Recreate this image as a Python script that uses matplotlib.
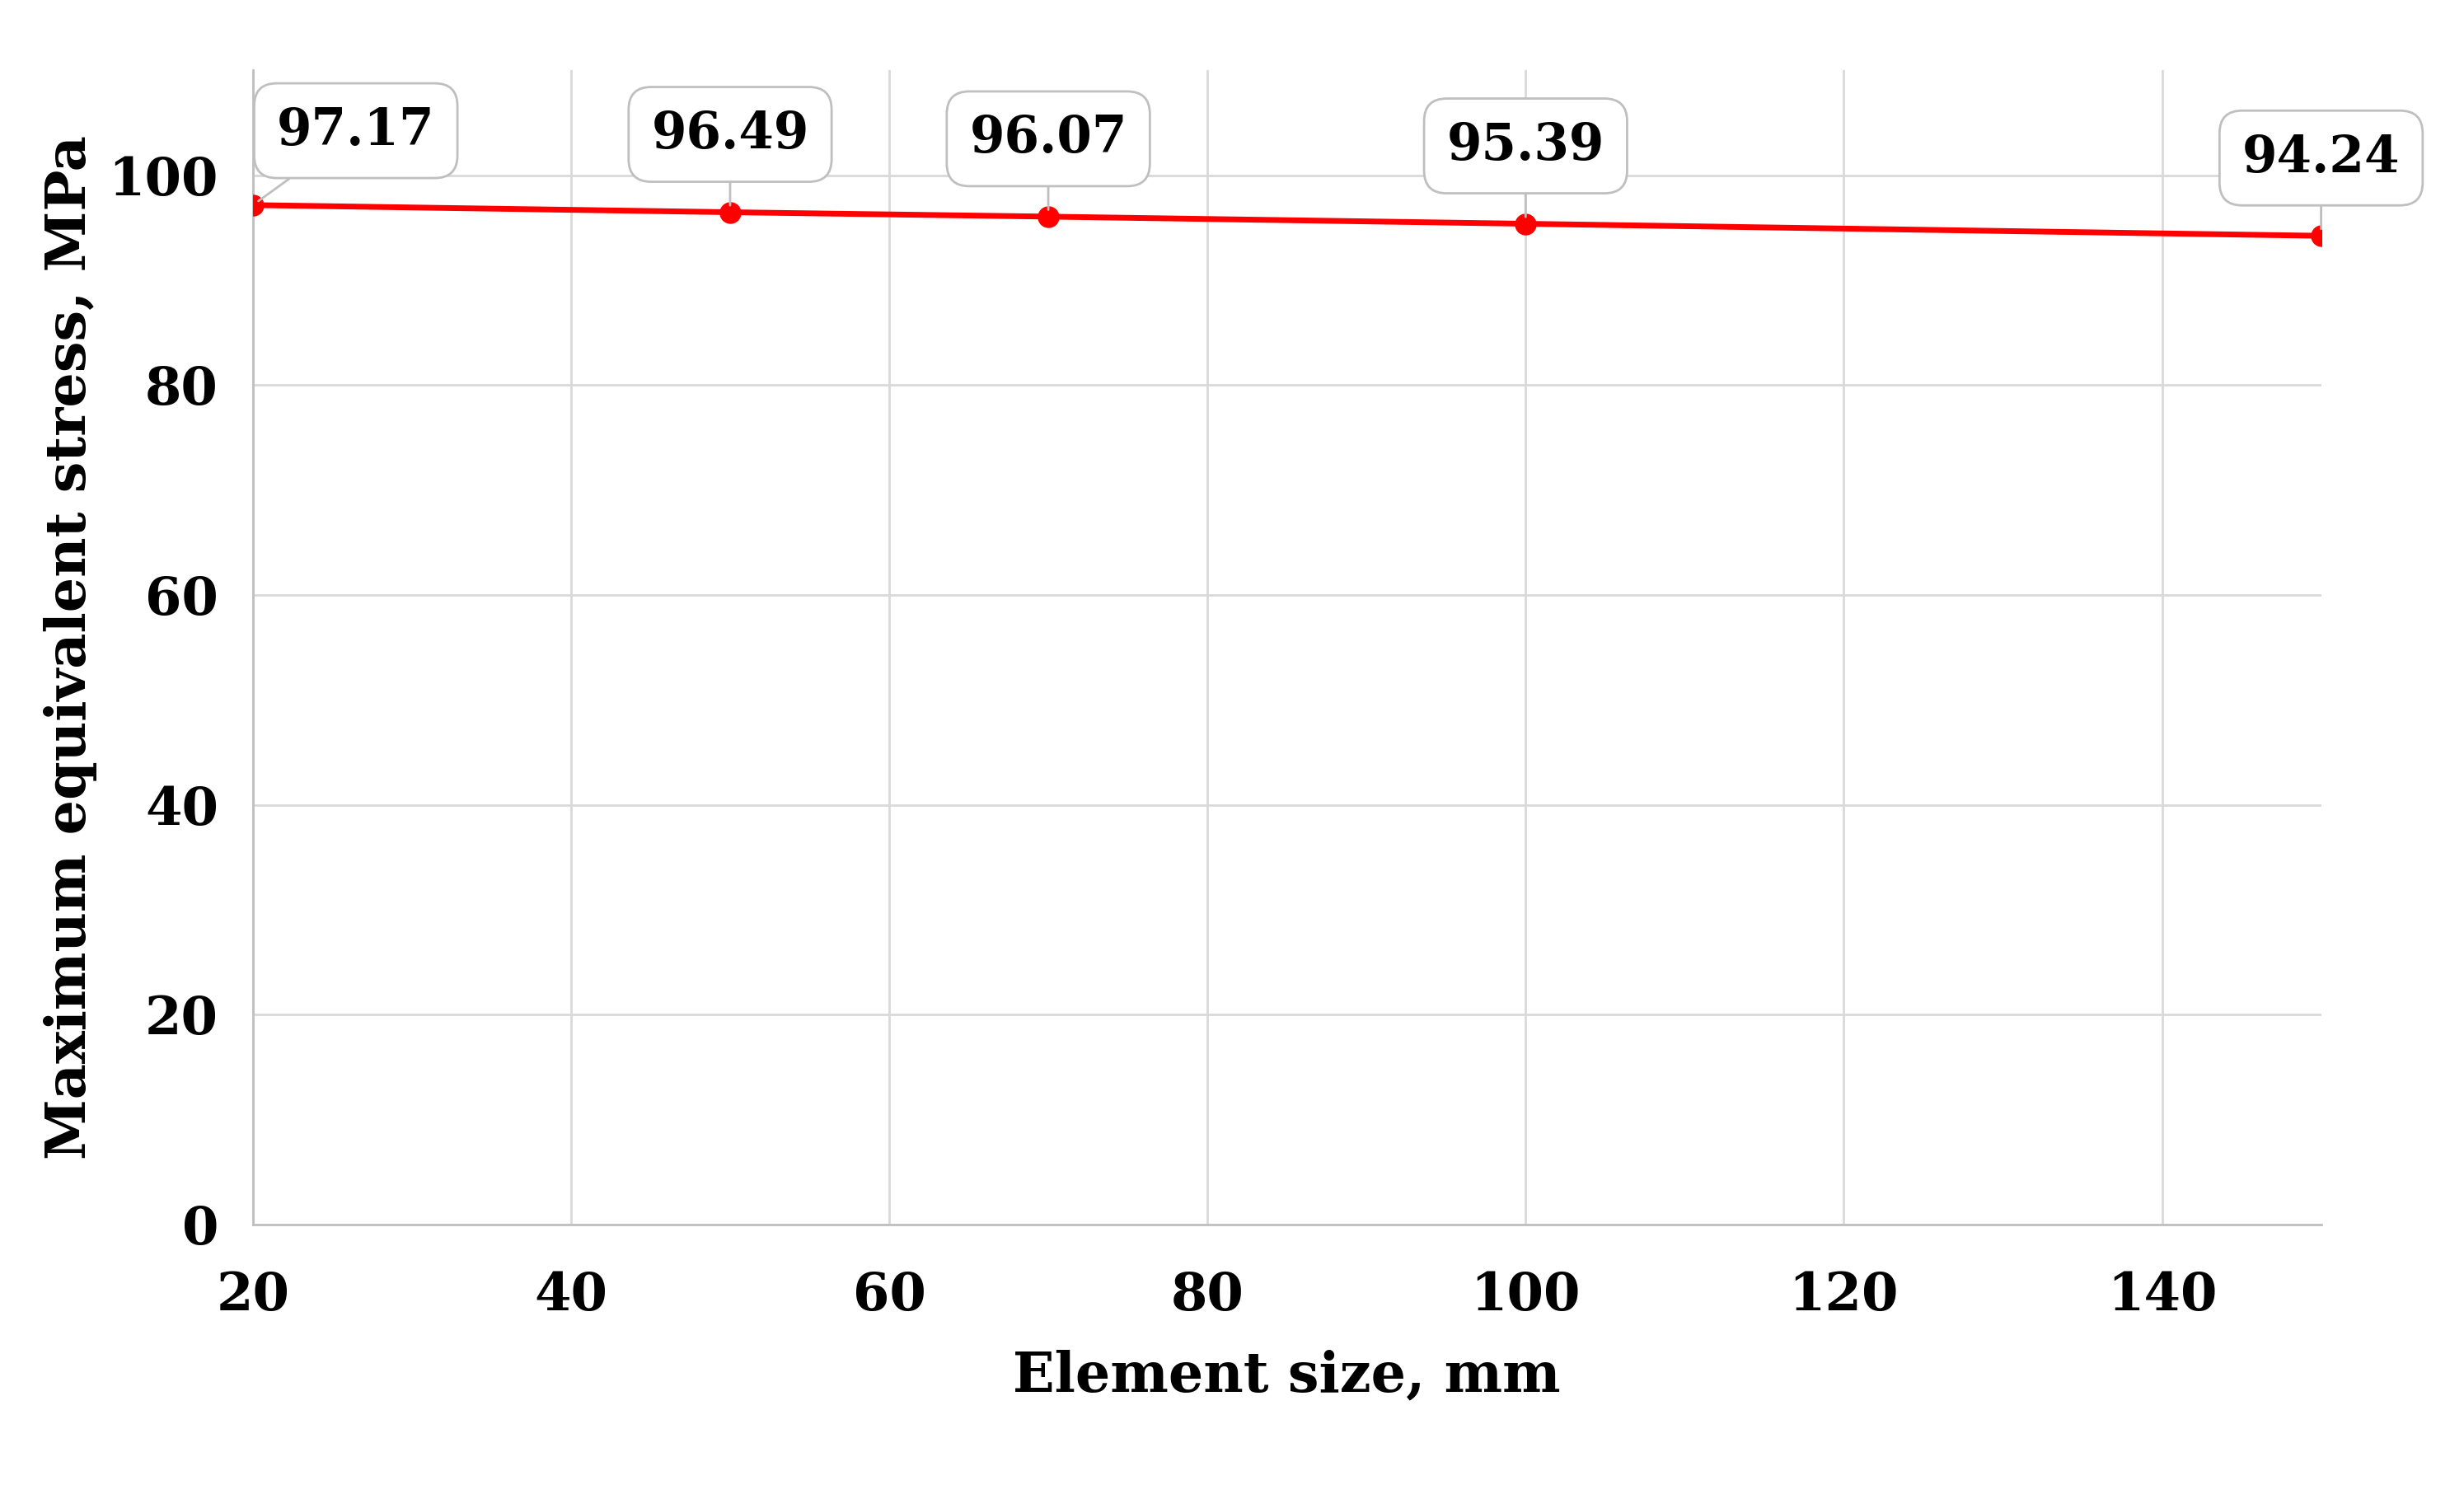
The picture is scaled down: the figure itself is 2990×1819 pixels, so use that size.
import matplotlib
matplotlib.use("Agg")
import matplotlib.pyplot as plt

sizes = [20, 50, 70, 100, 150]
stress = [97.17, 96.49, 96.07, 95.39, 94.24]
labels = ["97.17", "96.49", "96.07", "95.39", "94.24"]
xticks = [20, 40, 60, 80, 100, 120, 140]
yticks = [0, 20, 40, 60, 80, 100]

plt.rcParams['font.family'] = ['DejaVu Serif']
plt.rcParams['font.weight'] = 'bold'

fig = plt.figure(figsize=(29.9, 18.19), dpi=100)
ax = fig.add_axes([0.1026, 0.183, 0.8394, 0.77])
ax.plot(sizes, stress, color='#ff0000', lw=5, marker='o', ms=18,
        markerfacecolor='#ff0000', markeredgecolor='#ff0000', zorder=3)
ax.set_xlim(20, 150)
ax.set_ylim(0, 110)
ax.set_xticks(xticks)
ax.set_yticks(yticks)
ax.grid(True, color='#d9d9d9', lw=2)
ax.set_axisbelow(True)
for s in ['top', 'right']:
    ax.spines[s].set_visible(False)
for s in ['left', 'bottom']:
    ax.spines[s].set_color('#bfbfbf')
    ax.spines[s].set_linewidth(2)
ax.tick_params(length=0, labelsize=46, pad=40)
ax.tick_params(axis='y', pad=30)
for t in ax.get_xticklabels() + ax.get_yticklabels():
    t.set_fontweight('bold')
ax.set_xlabel("Element size, mm", fontsize=48, fontweight='bold', labelpad=25)
ax.set_ylabel("Maximum equivalent stress, MPa", fontsize=48, fontweight='bold', labelpad=10)

offsets = [(90, 65), (0, 68), (0, 68), (0, 68), (0, 68)]
for x, y, lab, off in zip(sizes, stress, labels, offsets):
    ax.annotate(lab, (x, y), xytext=off, textcoords='offset points',
                ha='center', va='center', fontsize=44, fontweight='bold',
                bbox=dict(boxstyle='round,pad=0.45', fc='white', ec='#bfbfbf', lw=2),
                arrowprops=dict(arrowstyle='-', color='#bfbfbf', lw=2, shrinkA=0, shrinkB=6),
                zorder=4)

fig.savefig("out.png", dpi=100)
